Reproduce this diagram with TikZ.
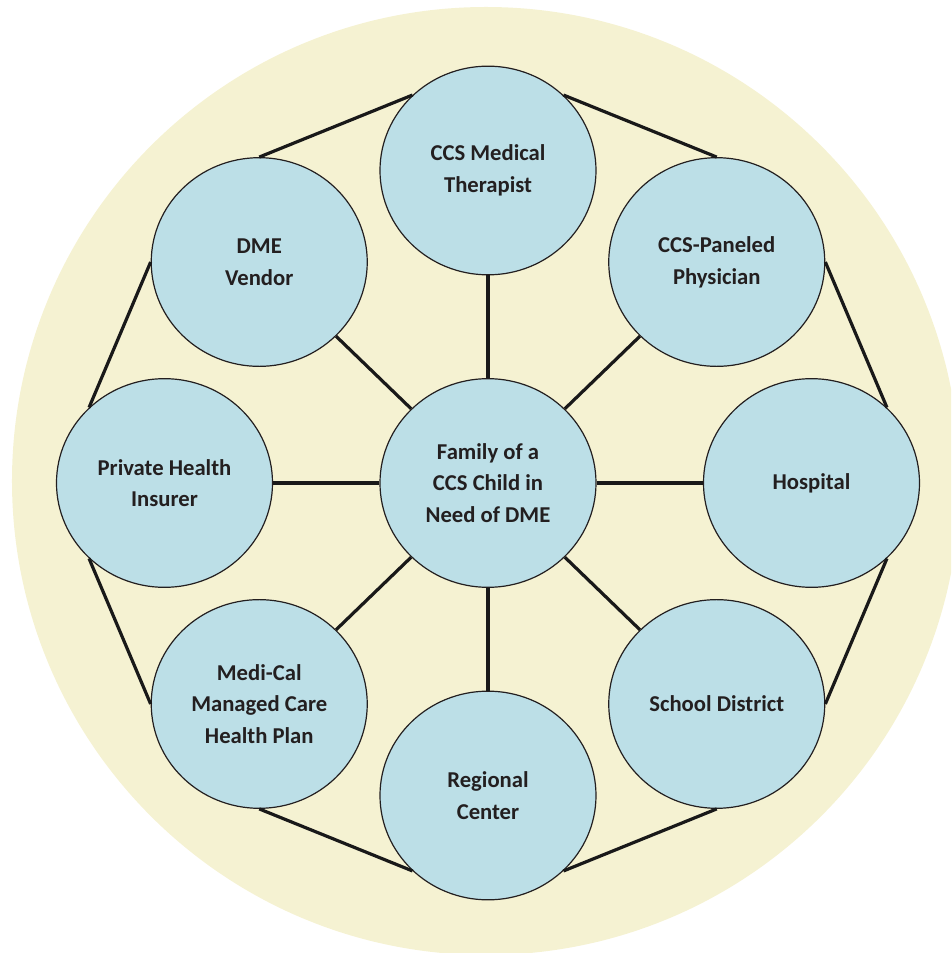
\documentclass[tikz,border=0pt]{standalone}
\usepackage{fontspec}
\setmainfont{Carlito}
\usepackage{tikz}
\usetikzlibrary{shapes.geometric}

\definecolor{backyellow}{RGB}{245,242,210}
\definecolor{bubbleblue}{RGB}{188,223,231}
\definecolor{inkdark}{RGB}{35,31,32}

\tikzset{
  member/.style={ellipse, draw=inkdark, line width=0.9pt, fill=bubbleblue,
    minimum width=162pt, minimum height=156.5pt, inner sep=0pt,
    align=center, text=inkdark, font=\fontsize{17}{23.8}\selectfont\bfseries},
  link/.style={line width=2.4pt, draw=black!90}
}

\begin{document}
\begin{tikzpicture}[x=0.75pt, y=0.75pt]
    \def \rx {323.5}
    \def \ry {312.5}
    \def \back {474} % radius of the yellow disc
    \clip (-488,-470) rectangle (463,483);
    \fill[backyellow] (-2,2) circle (\back);
    \node[member] (fam) at (0,0) {Family of a\\CCS Child in\\Need of DME};
    \foreach \ang/\nm/\txt in {0/hosp/{Hospital}, 45/phys/{CCS-Paneled\\Physician},
      90/ther/{CCS Medical\\Therapist}, 135/dme/{DME\\Vendor},
      180/priv/{Private Health\\Insurer}, 225/medi/{Medi-Cal\\Managed Care\\Health Plan},
      270/regc/{Regional\\Center}, 315/school/{School District}}
    {
      \node[member] (\nm) at ({\ang}:{\rx} and {\ry}) {\txt};
      \draw[link] (fam) -- (\nm);
    }
    % ring round the outside
    \foreach \a/\p/\b/\q in {hosp/45/phys/0, phys/90/ther/45, ther/135/dme/90,
      dme/180/priv/135, priv/225/medi/180, medi/270/regc/225,
      regc/315/school/270, school/0/hosp/315}
    {
      \draw[link] (\a.\p) -- (\b.\q);
    }
\end{tikzpicture}
\end{document}
